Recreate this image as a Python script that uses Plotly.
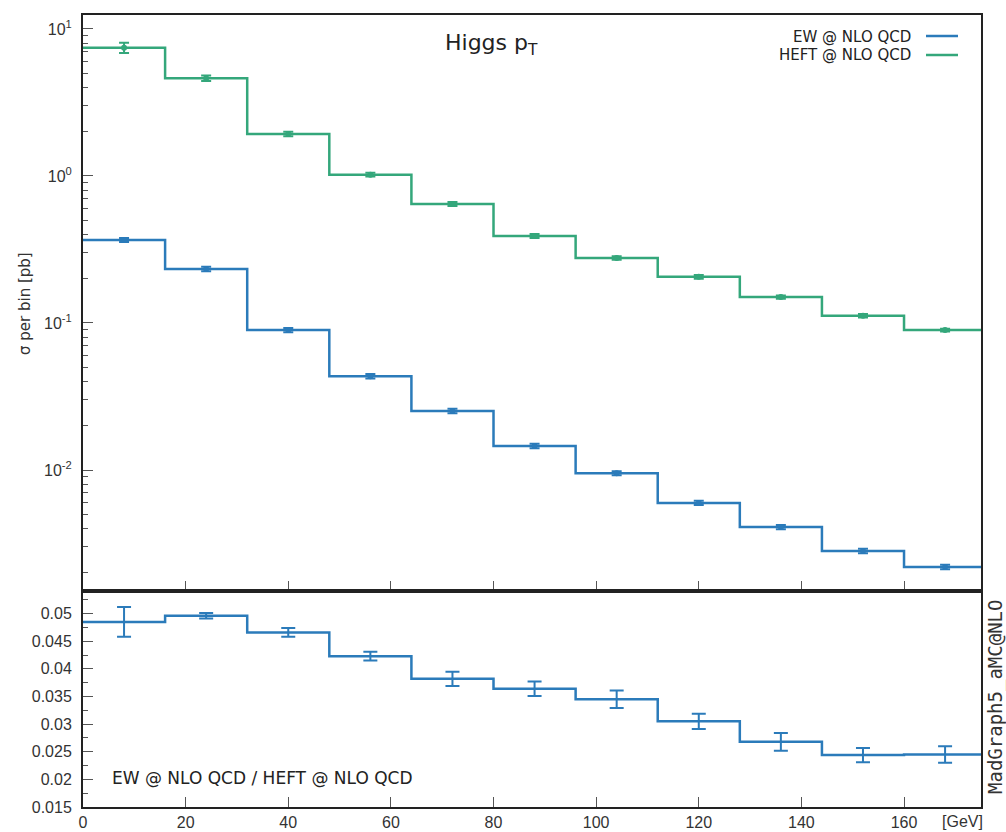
import numpy as np
import plotly.graph_objects as go

# ---- data ----
bin_edges = [0, 16, 32, 48, 64, 80, 96, 112, 128, 144, 160, 176]
bin_centers = [8, 24, 40, 56, 72, 88, 104, 120, 136, 152, 168]

heft = [7.46, 4.62, 1.93, 1.02, 0.645, 0.391, 0.277, 0.206, 0.150, 0.112, 0.0895]
heft_err = [0.60, 0.20, 0.07, 0.03, 0.02, 0.012, 0.008, 0.006, 0.004, 0.003, 0.002]
ew = [0.367, 0.233, 0.0896, 0.0435, 0.0252, 0.01456, 0.0095, 0.00597, 0.00409, 0.00281, 0.00219]
ew_err = [0.012, 0.008, 0.003, 0.0015, 0.0009, 0.0005, 0.0003, 0.0002, 0.00013, 0.0001, 0.00008]
ratio = [0.0485, 0.0496, 0.0466, 0.0423, 0.0382, 0.0364, 0.0345, 0.0305, 0.0268, 0.0244, 0.0245]
ratio_err = [0.0027, 0.0005, 0.0008, 0.0008, 0.0013, 0.0013, 0.0016, 0.0014, 0.0016, 0.0013, 0.0015]

xticks = [0, 20, 40, 60, 80, 100, 120, 140, 160]
yticks_main = [0.01, 0.1, 1, 10]
yticks_main_text = ["10<sup>-2</sup>", "10<sup>-1</sup>", "10<sup>0</sup>", "10<sup>1</sup>"]
yticks_ratio = [0.015, 0.02, 0.025, 0.03, 0.035, 0.04, 0.045, 0.05]
yticks_ratio_text = ["0.015", "0.02", "0.025", "0.03", "0.035", "0.04", "0.045", "0.05"]

BLUE = "#2b7bba"
GREEN = "#34a77b"

W, H = 1006, 832
ML, MR, MT, MB = 83, 25, 15, 25
split = (807 - 591) / (H - MT - MB)

fig = go.Figure()

def step(vals):
    return list(vals) + [vals[-1]]

# main panel
fig.add_trace(go.Scatter(x=bin_edges, y=step(heft), mode="lines", line=dict(color=GREEN, width=2.5, shape="hv"),
                         xaxis="x", yaxis="y", showlegend=False))
fig.add_trace(go.Scatter(x=bin_centers, y=heft, mode="markers", marker=dict(color=GREEN, size=6),
                         error_y=dict(type="data", array=heft_err, color=GREEN, thickness=2, width=5),
                         xaxis="x", yaxis="y", showlegend=False))
fig.add_trace(go.Scatter(x=bin_edges, y=step(ew), mode="lines", line=dict(color=BLUE, width=2.5, shape="hv"),
                         xaxis="x", yaxis="y", showlegend=False))
fig.add_trace(go.Scatter(x=bin_centers, y=ew, mode="markers", marker=dict(color=BLUE, size=6),
                         error_y=dict(type="data", array=ew_err, color=BLUE, thickness=2, width=5),
                         xaxis="x", yaxis="y", showlegend=False))

# ratio panel
fig.add_trace(go.Scatter(x=bin_edges, y=step(ratio), mode="lines", line=dict(color=BLUE, width=2.5, shape="hv"),
                         xaxis="x2", yaxis="y2", showlegend=False))
fig.add_trace(go.Scatter(x=bin_centers, y=ratio, mode="markers", marker=dict(color=BLUE, size=1),
                         error_y=dict(type="data", array=ratio_err, color=BLUE, thickness=2, width=7),
                         xaxis="x2", yaxis="y2", showlegend=False))

# minor tick positions for log axis
minor_log = [m * 10.0 ** e for e in range(-3, 2) for m in range(2, 10)]
minor_ratio = [0.0175 + 0.005 * i for i in range(8)]

FONT = "Liberation Sans, Arial, sans-serif"
WIDE = "DejaVu Sans, Verdana, sans-serif"
tickfont = dict(family=FONT, size=16, color="#333")
axis_common = dict(showgrid=False, zeroline=False, showline=True, linecolor="#222", linewidth=2, automargin=False)

fig.update_layout(
    width=W, height=H,
    margin=dict(l=ML, r=MR, t=MT, b=MB, autoexpand=False),
    plot_bgcolor="white", paper_bgcolor="white",
    xaxis=dict(domain=[0, 1], anchor="y", range=[0, 175], tickvals=xticks, showticklabels=False,
               ticks="inside", ticklen=10, tickcolor="#555", mirror=True, **axis_common),
    yaxis=dict(domain=[split, 1], anchor="x", type="log", range=[-2.823, 1.095],
               tickvals=yticks_main, ticktext=yticks_main_text, ticks="inside", ticklen=10, tickcolor="#555",
               tickfont=tickfont, mirror=True, ticklabelstandoff=6,
               minor=dict(tickvals=minor_log, ticks="inside", ticklen=5, tickcolor="#555"),
               **axis_common),
    xaxis2=dict(domain=[0, 1], anchor="y2", range=[0, 175], tickvals=xticks, ticks="inside", ticklen=10,
                tickcolor="#555", tickfont=tickfont, mirror=True, **axis_common),
    yaxis2=dict(domain=[0, split], anchor="x2", range=[0.015, 0.0541], tickvals=yticks_ratio,
                ticktext=yticks_ratio_text, ticks="inside", ticklen=10, tickcolor="#555", tickfont=tickfont,
                mirror=True, ticklabelstandoff=6,
                minor=dict(tickvals=minor_ratio, ticks="inside", ticklen=5, tickcolor="#555"),
                **axis_common),
)

# screen pixel -> paper coordinates
def px(x):
    return (x - ML) / (W - ML - MR)

def py(y):
    return (H - MB - y) / (H - MT - MB)

annots = [
    dict(text="Higgs p<sub>T</sub>", x=px(491), y=py(45), xanchor="center", yanchor="middle",
         font=dict(family=WIDE, size=22, color="#222")),
    dict(text="EW @ NLO QCD", x=px(913), y=py(37), xanchor="right", yanchor="middle",
         font=dict(family=WIDE, size=15, color="#222")),
    dict(text="HEFT @ NLO QCD", x=px(913), y=py(55), xanchor="right", yanchor="middle",
         font=dict(family=WIDE, size=15, color="#222")),
    dict(text="EW @ NLO QCD / HEFT @ NLO QCD", x=px(110), y=py(778), xanchor="left", yanchor="middle",
         font=dict(family=WIDE, size=17, color="#222")),
    dict(text="σ per bin [pb]", x=px(25), y=py(303), xanchor="center", yanchor="middle", textangle=-90,
         font=dict(family=WIDE, size=15, color="#333")),
    dict(text="[GeV]", x=px(962), y=py(821), xanchor="center", yanchor="middle",
         font=dict(family=FONT, size=16, color="#333")),
    dict(text="MadGraph5_aMC@NLO", x=px(995), y=py(697), xanchor="center", yanchor="middle", textangle=-90,
         font=dict(family="DejaVu Sans Mono, Liberation Mono, monospace", size=19, color="#333")),
]
for a in annots:
    a.update(xref="paper", yref="paper", showarrow=False)
fig.update_layout(annotations=annots)

fig.add_shape(type="line", xref="paper", yref="paper", x0=px(926), x1=px(958), y0=py(36), y1=py(36),
              line=dict(color=BLUE, width=2.5))
fig.add_shape(type="line", xref="paper", yref="paper", x0=px(926), x1=px(958), y0=py(55), y1=py(55),
              line=dict(color=GREEN, width=2.5))

fig.write_html("out.html", config={"displayModeBar": False},
               post_script="document.body.style.margin='0';document.body.style.overflow='hidden';")
